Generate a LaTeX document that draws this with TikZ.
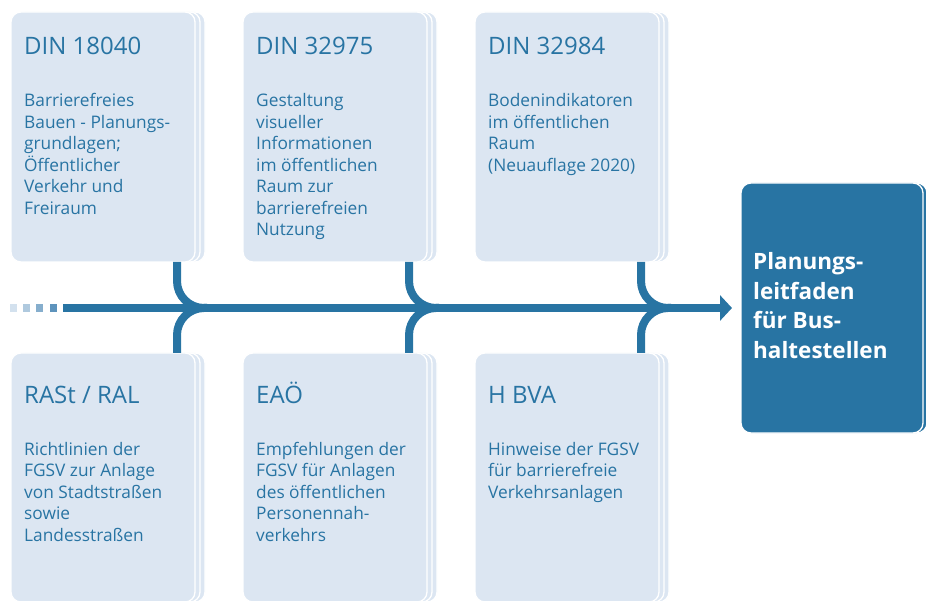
\documentclass[tikz,border=0pt]{standalone}
\usepackage{fontspec}
\setmainfont{Open Sans}
\usetikzlibrary{arrows.meta,calc}
\definecolor{boxfill}{HTML}{DCE6F2}
\definecolor{mainblue}{HTML}{2874A3}
\definecolor{fadeA}{HTML}{D3E1EE}
\definecolor{fadeB}{HTML}{AFC9DE}
\definecolor{fadeC}{HTML}{86AECD}
\definecolor{fadeD}{HTML}{5D93BC}
\tikzset{
  card/.style={rectangle, rounded corners=10pt, fill=boxfill, draw=white, line width=1.3pt, inner sep=0pt, outer sep=0pt, anchor=north west},
  goalcard/.style={rectangle, rounded corners=10pt, fill=mainblue, draw=white, line width=1.3pt, inner sep=0pt, outer sep=0pt, anchor=north west},
  titletext/.style={anchor=base west, inner sep=0pt, text=mainblue, font=\fontsize{24}{28}\selectfont},
  bodytext/.style={anchor=base west, inner sep=0pt, text=mainblue},
  flow/.style={draw=mainblue, line width=8pt},
  branch/.style={draw=mainblue, line width=8pt, rounded corners=27pt},
}
\newcommand\stackcard[6]{%
  \node[#6, minimum width=#4, minimum height=#5] (#1-p2) at ($(#2,#3)+(10,0)$) {};
  \node[#6, minimum width=#4, minimum height=#5] (#1-p1) at ($(#2,#3)+(5,0)$) {};
  \node[#6, minimum width=#4, minimum height=#5] (#1) at (#2,#3) {};
}
\newcommand\bodyblock[1]{\parbox[t]{190pt}{\raggedright\fontsize{17.3}{21.5}\selectfont #1}}
\begin{document}
\begin{tikzpicture}[x=1pt,y=-1pt]
\useasboundingbox (0,0) rectangle (926,601);
% cards
\stackcard{b1}{11}{12}{184pt}{250pt}{card}
\stackcard{b2}{243}{12}{184pt}{250pt}{card}
\stackcard{b3}{475}{12}{184pt}{250pt}{card}
\stackcard{b4}{11}{353}{184pt}{249pt}{card}
\stackcard{b5}{243}{353}{184pt}{249pt}{card}
\stackcard{b6}{475}{353}{184pt}{249pt}{card}
\node[goalcard, minimum width=182pt, minimum height=250pt] (goal-p1) at (745,183) {};
\node[goalcard, minimum width=182pt, minimum height=250pt] (goal) at (741,183) {};
% titles
\node[titletext] (t1) at (24,55) {DIN 18040};
\node[titletext] (t2) at (256,55) {DIN 32975};
\node[titletext] (t3) at (488,55) {DIN 32984};
\node[titletext] (t4) at (24,403) {RASt / RAL};
\node[titletext] (t5) at (256,403) {EAÖ};
\node[titletext] (t6) at (488,403) {H BVA};
% bodies
\node[bodytext] (x1) at (24,107) {\bodyblock{Barrierefreies\\Bauen - Planungs-\\grundlagen;\\Öffentlicher\\Verkehr und\\Freiraum}};
\node[bodytext] (x2) at (256,107) {\bodyblock{Gestaltung\\visueller\\Informationen\\im öffentlichen\\Raum zur\\barrierefreien\\Nutzung}};
\node[bodytext] (x3) at (488,107) {\bodyblock{Bodenindikatoren\\im öffentlichen\\Raum\\(Neuauflage 2020)}};
\node[bodytext] (x4) at (24,455) {\bodyblock{Richtlinien der\\FGSV zur Anlage\\von Stadtstraßen\\sowie\\Landesstraßen}};
\node[bodytext] (x5) at (256,455) {\bodyblock{Empfehlungen der\\FGSV für Anlagen\\des öffentlichen\\Personennah-\\verkehrs}};
\node[bodytext] (x6) at (488,455) {\bodyblock{Hinweise der FGSV\\für barrierefreie\\Verkehrsanlagen}};
% goal text
\node[anchor=base west, inner sep=0pt, text=white] (gt) at (753,270)
  {\parbox[t]{170pt}{\raggedright\fontsize{22.5}{29.5}\selectfont\bfseries Planungs-\\leitfaden\\für Bus-\\haltestellen}};
% fading dashes
\fill[fadeA] (10,304) rectangle (17,312);
\fill[fadeB] (23,304) rectangle (30,312);
\fill[fadeC] (36,304) rectangle (43,312);
\fill[fadeD] (50,304) rectangle (57,312);
% branches
\foreach \b/\d in {b1/b4, b2/b5, b3/b6}{
  \draw[branch] ($(\b.south east)+(-18,0)$) |- ($(\b.south east)+(12,46)$);
  \draw[branch] ($(\d.north east)+(-18,0)$) |- ($(\d.north east)+(12,-45)$);
}
% main flow
\coordinate (start) at (63,308);
\draw[flow, -{Triangle[length=12pt, width=25pt]}, shorten >=9pt] (start) -- (goal.west);
\end{tikzpicture}
\end{document}
